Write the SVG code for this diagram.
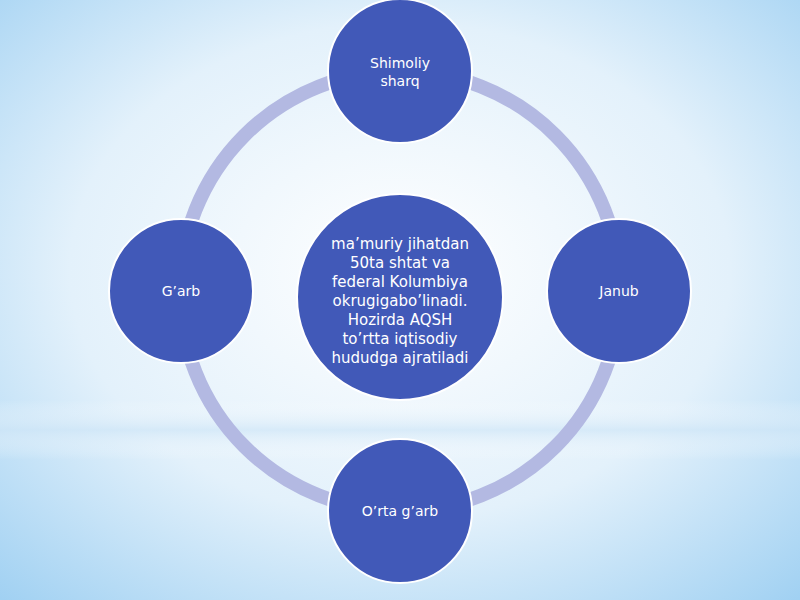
<svg xmlns="http://www.w3.org/2000/svg" width="800" height="600" viewBox="0 0 800 600">
<defs>
<radialGradient id="bg" cx="0.5" cy="0.45" r="0.75">
<stop offset="0" stop-color="#ffffff"/><stop offset="0.55" stop-color="#e3f1fb"/><stop offset="1" stop-color="#9fd0f2"/>
</radialGradient>
<linearGradient id="band" x1="0" y1="0" x2="0" y2="1">
<stop offset="0" stop-color="#ffffff" stop-opacity="0"/><stop offset="0.5" stop-color="#cfe6f7" stop-opacity="0.7"/><stop offset="1" stop-color="#ffffff" stop-opacity="0"/>
</linearGradient>
<style>
.n{fill:#4159b8;stroke:#ffffff;stroke-width:2}
.t{fill:#ffffff;font-family:"DejaVu Sans",sans-serif;font-size:14px;text-anchor:middle}
.c{font-size:15px}
</style>
</defs>
<rect width="800" height="600" fill="url(#bg)"/>
<rect y="400" width="800" height="60" fill="url(#band)"/>
<g id="connectors">
<circle cx="400" cy="291" r="220" fill="none" stroke="#b3b9e2" stroke-width="14"/>
</g>
<g id="center"><circle class="n" cx="400" cy="297" r="103"/>
<text class="t c" x="400" y="249">ma’muriy jihatdan</text>
<text class="t c" x="400" y="268">50ta shtat va</text>
<text class="t c" x="400" y="287">federal Kolumbiya</text>
<text class="t c" x="400" y="306">okrugigabo’linadi.</text>
<text class="t c" x="400" y="325">Hozirda AQSH</text>
<text class="t c" x="400" y="344">to’rtta iqtisodiy</text>
<text class="t c" x="400" y="363">hududga ajratiladi</text>
</g>
<g id="top"><circle class="n" cx="400" cy="71" r="72"/>
<text class="t" x="400" y="68">Shimoliy</text><text class="t" x="400" y="86">sharq</text></g>
<g id="right"><circle class="n" cx="619" cy="291" r="72"/>
<text class="t" x="619" y="296">Janub</text></g>
<g id="left"><circle class="n" cx="181" cy="291" r="72"/>
<text class="t" x="181" y="296">G’arb</text></g>
<g id="bottom"><circle class="n" cx="400" cy="511" r="72"/>
<text class="t" x="400" y="516">O’rta g’arb</text></g>
</svg>
